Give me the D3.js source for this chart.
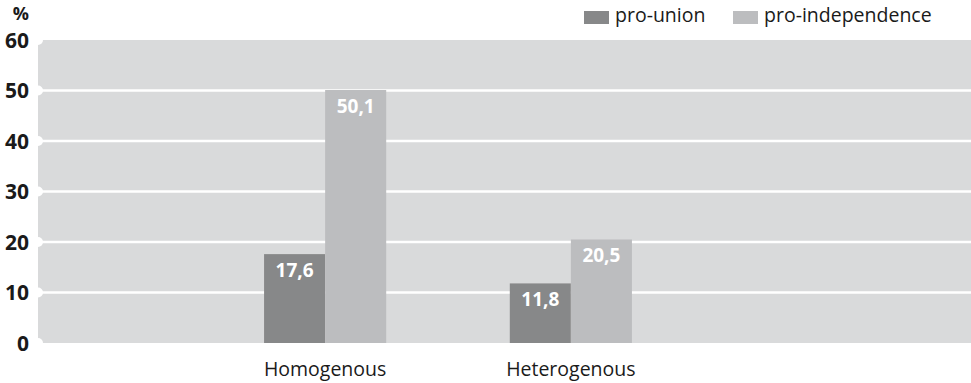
<!DOCTYPE html>
<html><head><meta charset="utf-8">
<script src="https://cdn.jsdelivr.net/npm/d3@7"></script>
<style>body{margin:0;background:#fff;} svg{display:block;}</style>
</head><body>
<svg id="c" width="971" height="383"></svg>
<script>
const categories = ["Homogenous", "Heterogenous"];
const seriesNames = ["pro-union", "pro-independence"];
const proUnion = [17.6, 11.8];
const proIndependence = [50.1, 20.5];
const yTicks = [0, 10, 20, 30, 40, 50, 60];
const colors = ["#878889", "#bcbdbf"];
const font = "'Open Sans', sans-serif";

const svg = d3.select("#c");
const plot = {left: 38, right: 971, top: 40, bottom: 343};
const y = d3.scaleLinear().domain([0, 60]).range([plot.bottom, plot.top]);
const x0 = d3.scaleBand().domain(categories).range([38, 858]).paddingInner(0.503).paddingOuter(0.92);
const x1 = d3.scaleBand().domain(seriesNames).range([0, x0.bandwidth()]);

svg.append("rect").attr("x", plot.left).attr("y", plot.top)
  .attr("width", plot.right - plot.left).attr("height", plot.bottom - plot.top).attr("fill", "#d9dadb");

// gridlines
svg.append("g").selectAll("line").data(yTicks.filter(t => t > 0 && t < 60)).join("line")
  .attr("x1", plot.left).attr("x2", plot.right)
  .attr("y1", d => y(d)).attr("y2", d => y(d))
  .attr("stroke", "#fff").attr("stroke-width", 2.5);
// notches
svg.append("g").selectAll("circle").data(yTicks).join("circle")
  .attr("cx", plot.left).attr("cy", d => y(d)).attr("r", 5).attr("fill", "#fff");

// y labels
svg.append("g").selectAll("text").data(yTicks).join("text")
  .attr("x", 29).attr("y", d => y(d)).attr("dy", "0.36em")
  .attr("text-anchor", "end").attr("font-family", font).attr("font-weight", 700)
  .attr("font-size", 21).attr("fill", "#1a1a1a").text(d => d);
svg.append("text").attr("x", 29).attr("y", 20).attr("text-anchor", "end")
  .attr("font-family", font).attr("font-weight", 700).attr("font-size", 18).attr("fill", "#1a1a1a").text("%");

const data = categories.map((c, i) => ({cat: c, vals: [proUnion[i], proIndependence[i]]}));
const groups = svg.append("g").selectAll("g").data(data).join("g")
  .attr("transform", d => `translate(${x0(d.cat)},0)`);
groups.selectAll("rect").data(d => d.vals.map((v, j) => ({s: seriesNames[j], v, j}))).join("rect")
  .attr("x", d => x1(d.s)).attr("width", x1.bandwidth())
  .attr("y", d => y(d.v)).attr("height", d => y(0) - y(d.v))
  .attr("fill", d => colors[d.j]);
groups.selectAll("text.v").data(d => d.vals.map((v, j) => ({s: seriesNames[j], v, j}))).join("text")
  .attr("class", "v")
  .attr("x", d => x1(d.s) + x1.bandwidth() / 2).attr("y", d => y(d.v) + 23)
  .attr("text-anchor", "middle").attr("font-family", font).attr("font-weight", 700)
  .attr("font-size", 19).attr("fill", "#fff")
  .text(d => d3.format(".1f")(d.v).replace(".", ","));

// category labels
svg.append("g").selectAll("text").data(categories).join("text")
  .attr("x", d => x0(d) + x0.bandwidth() / 2).attr("y", 376)
  .attr("text-anchor", "middle").attr("font-family", font).attr("font-size", 19.5)
  .attr("fill", "#1a1a1a").text(d => d);

// legend
const legX = [584, 733];
const leg = svg.append("g").selectAll("g").data(seriesNames).join("g")
  .attr("transform", (d, i) => `translate(${legX[i]},0)`);
leg.append("rect").attr("x", 0).attr("y", 11).attr("width", 25).attr("height", 13)
  .attr("fill", (d, i) => colors[i]);
leg.append("text").attr("x", 31).attr("y", 22).attr("font-family", font).attr("font-size", 19.5)
  .attr("fill", "#1a1a1a").text(d => d);
</script>
</body></html>
